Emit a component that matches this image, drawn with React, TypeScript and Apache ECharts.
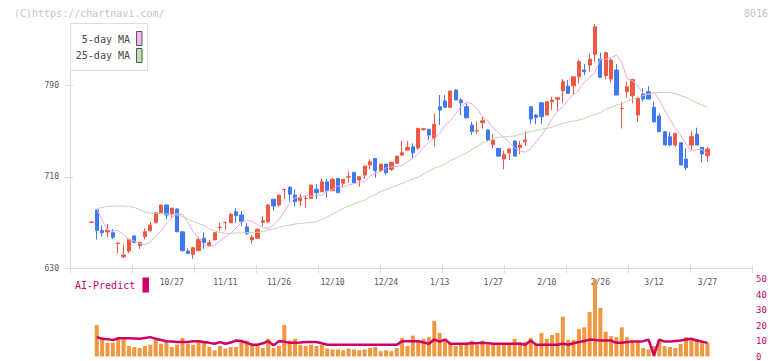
import React, { useEffect, useRef } from "react";
import * as echarts from "echarts";

// ---- data ----
const tickLabels = ["10/27", "11/11", "11/26", "12/10", "12/24", "1/13", "1/27", "2/10", "2/26", "3/12", "3/27"];
const firstLabelIndex = 15;
const labelStep = 10;
const priceTicks = [630, 710, 790];

// [open, close, low, high]
const candles: number[][] = [
  [670.0, 670.4, 670.0, 670.4], [681, 663, 655, 681], [663, 661, 657.5, 667], [661.6, 663.3, 657.2, 668.6], [661.0, 656.9, 655.4, 664.0],
  [651.5, 651.9, 642.9, 652.2], [639.9, 641.4, 638.5, 650.8], [644.9, 655.2, 642.9, 655.2], [658.1, 652.5, 651.7, 659.0], [649.6, 652.5, 646.7, 652.5],
  [657.5, 661.8, 655.2, 664.8], [662.7, 667.7, 661.8, 670.6], [669.7, 678.5, 669.2, 679.4], [678.5, 685.3, 678.0, 685.3], [685.3, 676.5, 672.7, 685.3],
  [677.4, 682.6, 674.5, 682.6], [681.8, 661.8, 661.5, 682.0], [661.8, 645.2, 644.3, 662.0], [644.9, 642.9, 642.3, 647.3], [642.0, 647.8, 637.9, 648.7],
  [645.2, 655.2, 644.9, 657.5], [656.1, 652.2, 646.7, 661.3], [649.6, 652.2, 649.3, 654.6], [654.6, 661.0, 654.6, 661.0], [665.5, 665.8, 662.7, 670.1],
  [669.9, 670.1, 663.3, 670.1], [669.7, 677.1, 669.7, 678.5], [679.4, 675.9, 669.7, 682.4], [676.5, 670.6, 666.8, 680.0], [666.2, 660.4, 658.9, 669.2],
  [654.6, 656.9, 651.1, 658.9], [656.1, 664.0, 655.5, 664.5], [670.1, 671.5, 667.1, 675.6], [670.6, 685.3, 669.7, 686.1], [690.3, 684.4, 680.3, 690.3],
  [685.3, 694.0, 683.8, 694.0], [698.7, 699.0, 690.5, 699.0], [700.8, 694.7, 688.2, 701.9], [694.0, 688.2, 683.8, 699.0], [689.0, 692.0, 684.4, 694.7],
  [690.8, 691.1, 683.2, 694.0], [691.1, 702.8, 690.5, 702.8], [699.0, 696.1, 690.5, 703.7], [696.9, 705.7, 696.4, 708.7], [705.7, 697.8, 691.7, 708.1],
  [697.8, 707.8, 697.8, 709.2], [708.7, 696.1, 696.0, 708.7], [704.3, 707.8, 701.3, 707.8], [709.8, 710.1, 704.8, 714.5], [713.9, 704.8, 704.3, 714.0],
  [707.2, 710.1, 701.3, 710.1], [711.6, 719.5, 708.1, 719.5], [720.4, 723.2, 716.8, 725.4], [726.2, 715.4, 709.2, 726.2], [715.4, 721.2, 714.5, 721.2],
  [721.2, 713.6, 711.6, 721.2], [716.6, 722.7, 715.1, 722.7], [721.8, 728.2, 721.8, 728.2], [729.1, 731.1, 728.2, 741.4], [733.5, 735.9, 733.0, 741.4],
  [736.4, 731.1, 725.6, 739.4], [735.3, 752.5, 733.5, 753.1], [751.5, 752.2, 750.5, 753.0], [751.7, 746.7, 742.3, 752.0], [743.8, 756.1, 736.4, 765.7],
  [771.5, 768.6, 755.4, 781.8], [776.5, 771.0, 770.6, 781.8], [771.0, 785.3, 770.5, 785.3], [786.1, 777.4, 777.4, 786.8], [777.4, 775.0, 764.2, 778.9],
  [771.5, 761.8, 761.3, 774.5], [755.4, 749.6, 746.7, 758.3], [750.2, 750.4, 747.5, 758.3], [757.5, 759.2, 752.5, 762.7], [751.1, 742.3, 741.0, 751.7],
  [738.5, 742.3, 735.0, 747.5], [735.0, 728.2, 727.6, 735.0], [725.6, 729.7, 716.6, 732.9], [731.1, 734.4, 724.7, 735.0], [741.4, 728.2, 728.2, 742.2],
  [735.9, 737.9, 730.0, 741.4], [740.8, 742.3, 737.0, 750.2], [771.5, 760.7, 756.3, 771.5], [764.2, 762.2, 756.1, 765.1], [775.0, 762.7, 756.3, 775.0],
  [764.2, 775.9, 764.2, 775.9], [775.9, 777.4, 768.6, 780.3], [778.0, 779.4, 768.0, 779.4], [785.5, 793.4, 775.0, 795.8], [789.6, 783.3, 782.6, 794.9],
  [789.9, 797.8, 782.4, 797.8], [797.8, 811.0, 792.0, 812.5], [803.7, 802.2, 799.3, 809.0], [808.1, 813.3, 802.2, 818.3], [817.5, 841.7, 811.0, 844.0],
  [813.3, 797.3, 797.3, 818.9], [798.7, 818.9, 795.5, 819.8], [795.8, 812.5, 792.6, 814.0], [803.7, 781.8, 781.8, 809.0], [769.9, 770.1, 752.5, 775.9],
  [784.7, 789.0, 779.7, 793.4], [781.1, 795.5, 774.5, 795.5], [764.2, 778.9, 758.3, 780.3], [782.6, 778.2, 775.9, 787.6], [784.7, 778.2, 778.2, 789.6],
  [771.0, 758.3, 757.5, 775.9], [763.3, 749.6, 749.6, 765.7], [749.6, 737.9, 737.9, 750.2], [745.2, 737.9, 737.0, 749.6], [737.9, 748.2, 736.4, 748.2],
  [739.9, 720.4, 720.4, 740.0], [725.6, 718.0, 716.0, 735.0], [737.9, 745.2, 733.5, 750.2], [747.5, 737.9, 737.9, 753.1], [735.9, 730.0, 722.4, 736.0],
  [728.5, 734.4, 723.2, 736.4],
];

const ma5: (number | null)[] = [
  null, 681.8, 672.1, 663.3, 662.5, 662.9, 659.2, 654.9, 653.8, 651.6,
  650.7, 652.7, 657.9, 662.6, 669.2, 674.0, 678.1, 676.9, 670.3, 661.8,
  656.1, 650.6, 648.7, 650.1, 653.7, 657.3, 660.3, 665.2, 670.0, 671.9,
  670.8, 668.2, 665.6, 664.7, 667.6, 672.4, 679.8, 686.8, 691.5, 692.1,
  693.6, 693.0, 693.8, 694.0, 697.5, 698.7, 702.0, 700.7, 703.0, 703.9,
  705.3, 705.8, 710.5, 713.5, 714.6, 717.9, 718.6, 719.2, 720.2, 723.4,
  726.3, 729.8, 735.8, 740.7, 743.9, 747.9, 755.4, 759.1, 765.6, 771.7,
  775.5, 774.1, 769.8, 762.8, 759.2, 752.7, 748.8, 744.5, 740.3, 735.4,
  732.6, 731.7, 734.5, 740.7, 746.3, 753.2, 760.8, 767.8, 771.5, 777.8,
  781.9, 786.3, 793.0, 797.5, 801.5, 813.2, 813.1, 814.7, 816.7, 810.4,
  796.1, 794.5, 789.8, 783.1, 782.3, 784.0, 777.8, 768.6, 760.4, 752.4,
  746.4, 738.8, 732.5, 733.9, 733.9, 730.3,
];

const ma25: (number | null)[] = [
  null, 682.2, 683.1, 683.9, 684.4, 684.4, 684.4, 683.9, 683.1, 681.3,
  679.1, 678.2, 678.0, 677.8, 677.4, 676.9, 676.5, 675.4, 673.0, 670.6,
  669.0, 667.5, 664.2, 662.5, 661.3, 660.5, 660.4, 660.7, 660.9, 661.1,
  661.3, 661.4, 662.0, 663.3, 664.2, 665.5, 666.8, 667.7, 668.6, 669.2,
  669.6, 670.1, 670.6, 672.5, 674.7, 677.4, 680.0, 682.2, 684.4, 686.1,
  687.9, 689.6, 692.3, 694.5, 697.1, 698.9, 700.6, 702.4, 704.3, 706.1,
  708.1, 709.8, 712.5, 715.1, 717.5, 719.1, 721.2, 724.3, 726.1, 728.7,
  730.9, 734.0, 736.6, 739.7, 741.4, 743.2, 744.7, 745.1, 745.5, 745.8,
  747.1, 748.4, 749.6, 750.7, 751.7, 752.5, 753.7, 755.4, 756.9, 758.1,
  759.0, 759.8, 761.1, 763.3, 764.7, 766.4, 769.0, 771.2, 773.0, 774.3,
  776.1, 777.8, 779.6, 781.3, 782.6, 783.5, 783.9, 784.1, 783.9, 783.1,
  781.3, 779.6, 777.4, 775.0, 773.0, 771.0,
];

const volume: number[] = [
  0, 20.3, 12.5, 8.9, 8.9, 11.4, 11.0, 6.8, 6.1, 5.5,
  6.8, 7.6, 11.0, 8.2, 9.3, 6.1, 7.6, 12.0, 8.2, 7.6,
  10.3, 8.9, 6.1, 4.0, 6.8, 5.1, 6.1, 6.1, 10.3, 10.3,
  8.2, 6.8, 5.5, 11.4, 5.5, 6.8, 20.3, 10.3, 11.4, 7.6,
  6.8, 7.6, 6.8, 7.6, 5.1, 4.6, 4.6, 4.0, 5.1, 4.6,
  4.0, 4.6, 5.5, 6.1, 3.4, 4.0, 3.4, 5.5, 12.0, 6.8,
  13.5, 10.3, 11.4, 12.5, 23.0, 15.2, 11.4, 8.2, 6.8, 7.6,
  7.6, 10.3, 7.6, 10.3, 7.6, 7.6, 7.6, 7.6, 7.6, 11.4,
  9.3, 9.3, 12.0, 7.6, 15.2, 11.4, 13.9, 15.2, 25.7, 10.8,
  10.8, 17.7, 18.8, 28.7, 49.8, 31.4, 16.0, 13.1, 12.5, 18.8,
  12.5, 10.3, 10.3, 5.5, 4.6, 6.8, 10.3, 6.8, 6.1, 5.5,
  8.2, 12.5, 10.8, 11.4, 9.3, 8.9,
];

const aiPredict: (number | null)[] = [
  null, 12.5, 11.4, 11.2, 10.6, 11.8, 11.8, 11.8, 11.6, 11.4,
  12.0, 12.5, 11.4, 10.6, 9.9, 9.6, 9.3, 9.3, 9.3, 9.9,
  9.9, 9.3, 8.8, 8.2, 9.3, 8.2, 9.0, 10.3, 10.0, 8.8,
  7.6, 7.6, 8.5, 9.9, 7.2, 9.9, 9.6, 8.8, 8.8, 9.0,
  9.3, 9.3, 9.3, 8.5, 7.6, 7.6, 7.6, 7.6, 7.6, 7.6,
  7.6, 7.6, 7.6, 7.6, 7.6, 7.6, 7.6, 7.6, 9.9, 9.9,
  9.9, 9.9, 9.0, 8.2, 10.9, 9.6, 10.9, 8.2, 8.2, 8.2,
  8.2, 8.5, 8.5, 8.8, 8.5, 8.2, 8.2, 8.2, 8.2, 8.2,
  8.2, 7.6, 10.3, 7.6, 7.6, 7.6, 7.6, 7.6, 8.2, 7.6,
  8.5, 9.3, 10.0, 10.9, 10.6, 10.3, 10.3, 10.3, 8.8, 8.8,
  9.3, 9.6, 9.6, 9.9, 10.9, 0.8, 10.9, 9.6, 9.6, 10.0,
  10.3, 10.9, 11.4, 10.3, 9.6, 8.8,
];

const FONT = '"DejaVu Sans Mono", monospace';
const UP = "#ef5842";
const DOWN = "#4079ef";
const AXIS = "#dcdcdc";
const MAGENTA = "#cc0066";

export default function App() {
  const ref = useRef<HTMLDivElement>(null);

  useEffect(() => {
    if (!ref.current) return;
    const chart = echarts.init(ref.current, null, { renderer: "svg" });

    const labelMap: Record<number, string> = {};
    const labelValues: number[] = [];
    tickLabels.forEach((t, k) => {
      const v = firstLabelIndex + k * labelStep;
      labelMap[v] = t;
      labelValues.push(v);
    });

    const pairs = (arr: (number | null)[]) =>
      arr.map((v, i) => (v == null ? null : [i, v])).filter((d) => d != null);

    const option: any = {
      animation: false,
      grid: [
        { left: 70, top: 23, width: 682, height: 245 },
        { left: 70, top: 279, width: 682, height: 79 },
      ],
      xAxis: [
        {
          gridIndex: 0,
          type: "value",
          position: "bottom",
          min: -4,
          max: 123.31,
          interval: 1,
          axisLine: { show: true, onZero: false, lineStyle: { color: AXIS, width: 1 } },
          axisTick: { show: false },
          splitLine: { show: false },
          axisLabel: {
            customValues: labelValues,
            formatter: (v: number) => labelMap[v] ?? "",
            fontFamily: FONT,
            fontSize: 8,
            color: "#555",
            margin: 10,
          },
        },
        {
          gridIndex: 0,
          type: "value",
          position: "bottom",
          offset: -3,
          min: 0,
          max: 11,
          interval: 1,
          axisLine: { show: false, onZero: false },
          axisTick: { show: true, length: 8, lineStyle: { color: AXIS } },
          axisLabel: { show: false },
          splitLine: { show: false },
        },
        {
          gridIndex: 1,
          type: "value",
          min: -4,
          max: 123.31,
          show: false,
          axisLine: { onZero: false },
          splitLine: { show: false },
        },
      ],
      yAxis: [
        {
          gridIndex: 0,
          type: "value",
          position: "left",
          min: 630,
          max: 845,
          interval: 80,
          axisLine: { show: true, onZero: false, lineStyle: { color: AXIS, width: 1 } },
          axisTick: { show: false },
          splitLine: { show: false },
          axisLabel: {
            customValues: priceTicks,
            formatter: (v: number) => (priceTicks.indexOf(v) >= 0 ? String(v) : ""),
            fontFamily: FONT,
            fontSize: 8,
            color: "#555",
            margin: 11,
          },
        },
        {
          gridIndex: 0,
          type: "value",
          position: "left",
          offset: -3,
          min: 630,
          max: 845,
          interval: 80,
          axisLine: { show: false, onZero: false },
          axisTick: { show: true, length: 8, customValues: priceTicks, lineStyle: { color: AXIS } },
          axisLabel: { show: false },
          splitLine: { show: false },
        },
        {
          gridIndex: 1,
          type: "value",
          position: "right",
          min: 0,
          max: 50,
          interval: 10,
          axisLine: { show: false, onZero: false },
          axisTick: { show: false },
          splitLine: { show: false },
          axisLabel: { fontFamily: FONT, fontSize: 9, color: MAGENTA, margin: 4 },
        },
      ],
      series: [
        {
          type: "candlestick",
          xAxisIndex: 0,
          yAxisIndex: 0,
          barWidth: 3.7,
          data: candles.map((c, i) => [i, c[0], c[1], c[2], c[3]]),
          itemStyle: {
            color: UP,
            color0: DOWN,
            borderColor: UP,
            borderColor0: DOWN,
            borderWidth: 1,
          },
        },
        {
          type: "line",
          name: "25-day MA",
          xAxisIndex: 0,
          yAxisIndex: 0,
          data: pairs(ma25),
          symbol: "none",
          lineStyle: { color: "#b6dca6", width: 1 },
        },
        {
          type: "line",
          name: "5-day MA",
          xAxisIndex: 0,
          yAxisIndex: 0,
          data: pairs(ma5),
          symbol: "none",
          lineStyle: { color: "#e8aae8", width: 1 },
        },
        {
          type: "bar",
          xAxisIndex: 2,
          yAxisIndex: 2,
          barWidth: 4,
          data: volume.map((v, i) => [i, v]),
          itemStyle: { color: "#f19740" },
        },
        {
          type: "line",
          name: "AI-Predict",
          xAxisIndex: 2,
          yAxisIndex: 2,
          data: pairs(aiPredict),
          symbol: "none",
          lineStyle: { color: MAGENTA, width: 2.5 },
          z: 5,
        },
      ],
      graphic: [
        {
          type: "text",
          x: 14,
          y: 13,
          style: { text: "(C)https://chartnavi.com/", fill: "#c4c4c4", font: `10px ${FONT}`, verticalAlign: "middle" },
        },
        {
          type: "text",
          x: 768,
          y: 13,
          style: { text: "8016", fill: "#c4c4c4", font: `10px ${FONT}`, align: "right", verticalAlign: "middle" },
        },
        {
          type: "rect",
          z: 10,
          shape: { x: 70.5, y: 23.5, width: 77, height: 47 },
          style: { fill: "#ffffff", stroke: "#dddddd", lineWidth: 1 },
        },
        {
          type: "text",
          z: 11,
          x: 130,
          y: 39,
          style: { text: "5-day MA", fill: "#444", font: `10px ${FONT}`, align: "right", verticalAlign: "middle" },
        },
        {
          type: "text",
          z: 11,
          x: 130,
          y: 55.5,
          style: { text: "25-day MA", fill: "#444", font: `10px ${FONT}`, align: "right", verticalAlign: "middle" },
        },
        {
          type: "rect",
          z: 11,
          shape: { x: 136.5, y: 31.5, width: 5.5, height: 14 },
          style: { fill: "#f0b8f0", stroke: "#555", lineWidth: 1 },
        },
        {
          type: "rect",
          z: 11,
          shape: { x: 136.5, y: 48.5, width: 5.5, height: 14 },
          style: { fill: "#bfe0b0", stroke: "#555", lineWidth: 1 },
        },
        {
          type: "text",
          x: 75,
          y: 285,
          style: { text: "AI-Predict", fill: MAGENTA, font: `10px ${FONT}`, verticalAlign: "middle" },
        },
        {
          type: "rect",
          shape: { x: 142.5, y: 277.5, width: 6.5, height: 15 },
          style: { fill: MAGENTA },
        },
      ],
    };

    chart.setOption(option);
    return () => chart.dispose();
  }, []);

  return (
    <div
      ref={ref}
      style={{ position: "fixed", left: 0, top: 0, width: 772, height: 361, background: "#fff" }}
    />
  );
}
